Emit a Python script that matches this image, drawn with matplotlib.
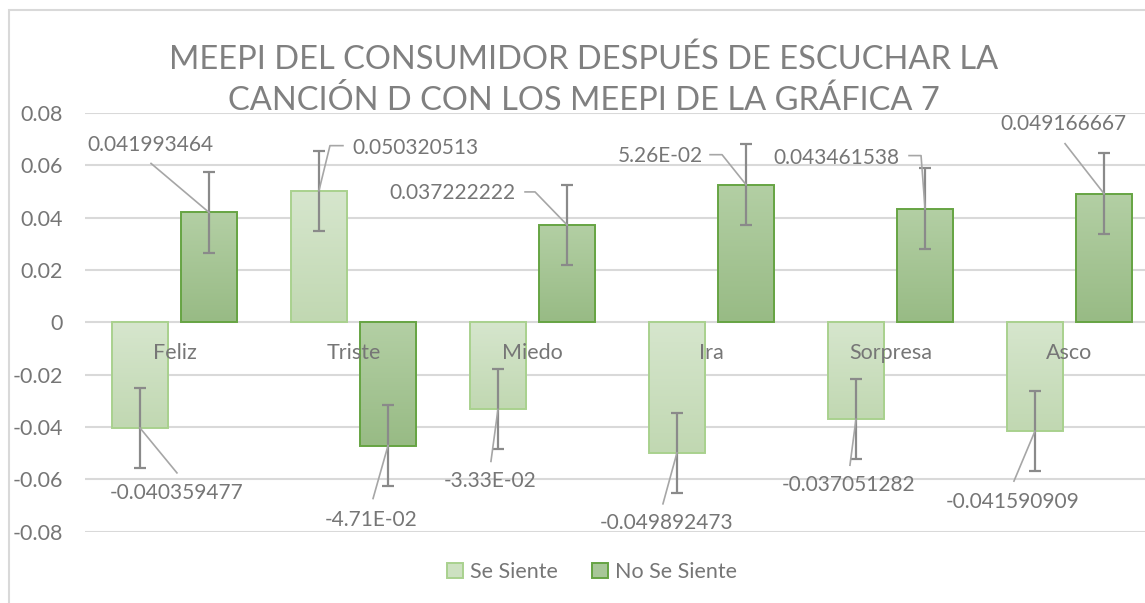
import numpy as np
import matplotlib
matplotlib.use("Agg")
import matplotlib.pyplot as plt
from matplotlib.colors import LinearSegmentedColormap
from matplotlib.patches import Rectangle, Patch
from matplotlib.lines import Line2D
from matplotlib.transforms import Affine2D

# data
categories = ["Feliz", "Triste", "Miedo", "Ira", "Sorpresa", "Asco"]
se_siente = [-0.040359477, 0.050320513, -0.0333, -0.049892473, -0.037051282, -0.041590909]
no_se_siente = [0.041993464, -0.0471, 0.037222222, 0.0526, 0.043461538, 0.049166667]
se_err = [0.0153, 0.0153, 0.0153, 0.0153, 0.0153, 0.0153]
no_err = [0.0154, 0.0154, 0.0154, 0.0154, 0.0154, 0.0154]
se_labels = ["-0.040359477", "0.050320513", "-3.33E-02", "-0.049892473", "-0.037051282", "-0.041590909"]
no_labels = ["0.041993464", "-4.71E-02", "0.037222222", "5.26E-02", "0.043461538", "0.049166667"]
yticks = [-0.08, -0.06, -0.04, -0.02, 0, 0.02, 0.04, 0.06, 0.08]
ytick_labels = ["-0.08", "-0.06", "-0.04", "-0.02", "0", "0.02", "0.04", "0.06", "0.08"]

# where the data labels sit, in pixels from the bar end (x right, y up)
se_text_off = [(37, -65), (96, 43), (-8, -72), (-10, -70), (-7, -66), (-22, -71)]
se_leader = [[(37, -45)], [(11, 45), (24, 45)], [(-7, -52)], [(-14, -51)], [(-6, -46)], [(-21, -50)]]
no_text_off = [(-59, 67), (-17, -74), (-115, 32), (-86, 29), (-89, 51), (-41, 70)]
no_leader = [[(-58, 49)], [(-15, -53)], [(-32, 33), (-42, 33)], [(-24, 30), (-36, 30)],
             [(-4, 53), (-16, 53)], [(-39, 50)]]

FONT = "Lato"
TXT = "#767676"
plt.rcParams["font.family"] = [FONT, "DejaVu Sans"]

fig = plt.figure(figsize=(11.45, 6.03), dpi=100)
ax = fig.add_axes([85 / 1145, 71.4 / 603, 1074 / 1145, 418.6 / 603])

x = np.arange(len(categories))
w = 0.313
off = 0.193

se_bars = ax.bar(x - off, se_siente, w, facecolor="none", edgecolor="#a9d18e", linewidth=1.4, zorder=3)
no_bars = ax.bar(x + off, no_se_siente, w, facecolor="none", edgecolor="#66a443", linewidth=1.4, zorder=3)


def gradient_fill(rect, top, bottom):
    cmap = LinearSegmentedColormap.from_list("g", [top, bottom])
    x0, y0 = rect.get_x(), rect.get_y()
    x1, y1 = x0 + rect.get_width(), y0 + rect.get_height()
    img = ax.imshow(np.linspace(0, 1, 64).reshape(-1, 1), cmap=cmap, origin="upper",
                    extent=(x0, x1, min(y0, y1), max(y0, y1)), aspect="auto", zorder=2.9)
    img.set_clip_path(rect)


for r in se_bars:
    gradient_fill(r, "#d6e6cd", "#c1d8b2")
for r in no_bars:
    gradient_fill(r, "#b3cfa4", "#98bb85")

ax.errorbar(x - off, se_siente, yerr=se_err, fmt="none", ecolor="#8a8a8a",
            elinewidth=1.6, capsize=4.5, capthick=1.6, zorder=4)
ax.errorbar(x + off, no_se_siente, yerr=no_err, fmt="none", ecolor="#8a8a8a",
            elinewidth=1.6, capsize=4.5, capthick=1.6, zorder=4)

ax.set_xlim(-0.5, len(categories) - 0.5)
ax.set_ylim(-0.08, 0.08)
ax.set_aspect("auto")
ax.set_yticks(yticks)
ax.set_yticklabels(ytick_labels)
ax.set_xticks([])
ax.tick_params(axis="y", length=0, pad=16, labelsize=15.5, labelcolor=TXT)
ax.grid(axis="y", color="#d9d9d9", linewidth=1.5, zorder=0)
ax.set_axisbelow(True)
for s in ax.spines.values():
    s.set_visible(False)

# category names sit just under the zero line, drawn over the bars
for i, c in enumerate(categories):
    ax.text(i, -0.0117, c, ha="center", va="center", fontsize=15.5, color=TXT, zorder=7)

fig.canvas.draw()


def data_label(bx, by, text, toff, leader):
    px, py = ax.transData.transform((bx, by))
    pts = [(0, 0)] + leader
    ln = Line2D([p[0] for p in pts], [p[1] for p in pts], color="#a6a6a6", linewidth=1.2,
                transform=Affine2D().translate(px, py), zorder=5)
    fig.add_artist(ln)
    ax.annotate(text, xy=(bx, by), xytext=toff, textcoords="offset pixels",
                ha="center", va="center", fontsize=15, color=TXT, zorder=6)


for i in range(len(categories)):
    data_label(x[i] - off, se_siente[i], se_labels[i], se_text_off[i], se_leader[i])
    data_label(x[i] + off, no_se_siente[i], no_labels[i], no_text_off[i], no_leader[i])

fig.text(584 / 1145, 1 - 80 / 603,
         "MEEPI DEL CONSUMIDOR DESPUÉS DE ESCUCHAR LA\nCANCIÓN D CON LOS MEEPI DE LA GRÁFICA 7",
         ha="center", va="center", fontsize=23.5, color="#808080", linespacing=1.38)

handles = [Patch(facecolor="#cde1c1", edgecolor="#a9d18e", linewidth=1.4, label="Se Siente"),
           Patch(facecolor="#a8c798", edgecolor="#66a443", linewidth=1.4, label="No Se Siente")]
fig.legend(handles=handles, loc="center", bbox_to_anchor=(592 / 1145, 1 - 572 / 603), ncol=2,
           frameon=False, fontsize=15.5, labelcolor=TXT, handlelength=0.75, handleheight=0.75,
           handletextpad=0.3, columnspacing=1.6)

# outer chart border (right side falls outside the picture)
fig.add_artist(Rectangle((9 / 1145, -0.01), 1.1, 1 - 10 / 603 + 0.01, transform=fig.transFigure,
                         fill=False, edgecolor="#d9d9d9", linewidth=1.5))

fig.savefig("out.png", dpi=100)
